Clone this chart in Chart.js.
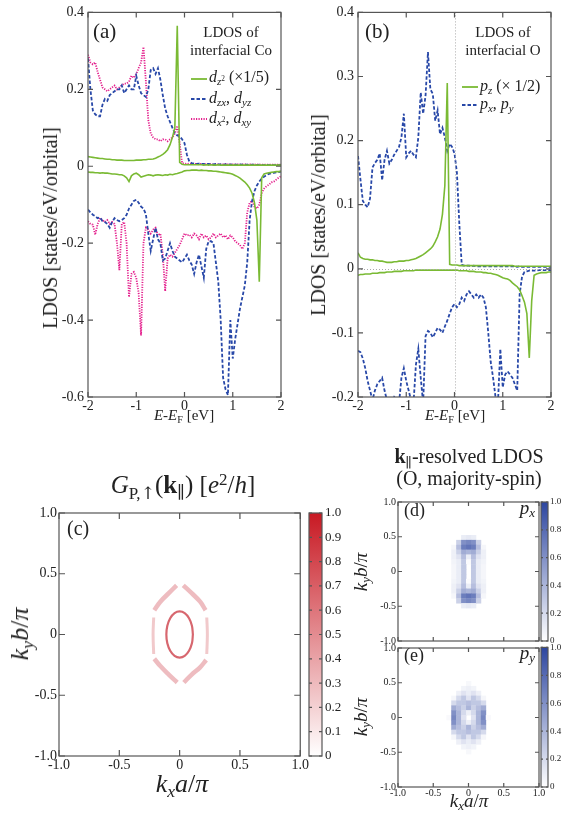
<!DOCTYPE html>
<html>
<head>
<meta charset="utf-8">
<script src="https://cdn.jsdelivr.net/npm/chart.js@4.4.1/dist/chart.umd.min.js"></script>
<style>
  body { margin: 0; width: 575px; height: 820px; position: relative; overflow: hidden; background: #fff;
         font-family: "Liberation Serif", "DejaVu Serif", serif; color: #222; }
  canvas { position: absolute; }
  .c { position: absolute; transform: translate(-50%, -50%); white-space: nowrap; line-height: 1; }
  .r { transform: translate(-50%, -50%) rotate(-90deg); }
  .l { position: absolute; transform: translateY(-50%); white-space: nowrap; line-height: 1; }
  .rt { position: absolute; transform: translate(-100%, -50%); white-space: nowrap; line-height: 1; }
  .sb { font-size: 68%; vertical-align: -0.3em; }
  .sp { font-size: 68%; vertical-align: 0.5em; }
  .arr { font-family: "DejaVu Serif", serif; }
  .leg { position: absolute; }
</style>
</head>
<body>

<canvas id="chartA" width="290" height="425" style="left:0;top:0"></canvas>
<canvas id="chartB" width="285" height="425" style="left:290px;top:0"></canvas>
<canvas id="chartC" width="310" height="280" style="left:0;top:500px"></canvas>
<canvas id="barC" width="50" height="280" style="left:300px;top:500px"></canvas>
<canvas id="chartD" width="210" height="160" style="left:340px;top:490px"></canvas>
<canvas id="barD" width="40" height="160" style="left:535px;top:490px"></canvas>
<canvas id="chartE" width="210" height="175" style="left:340px;top:640px"></canvas>
<canvas id="barE" width="40" height="175" style="left:535px;top:640px"></canvas>

<!-- panel (a) text -->
<div class="c r" style="left:50px;top:228px;font-size:20px">LDOS [states/eV/orbital]</div>
<div class="c" style="left:184px;top:417px;font-size:15px"><i>E</i>-<i>E</i><span class="sb">F</span> [eV]</div>
<div class="l" style="left:93px;top:31px;font-size:21px">(a)</div>
<div class="c" style="left:231px;top:32px;font-size:15px">LDOS of</div>
<div class="c" style="left:231px;top:50px;font-size:15px">interfacial Co</div>
<svg class="leg" style="left:191px;top:74px" width="16" height="50">
  <line x1="0" y1="5" x2="16" y2="5" stroke="rgb(122,186,52)" stroke-width="1.8"/>
  <line x1="0" y1="25" x2="16" y2="25" stroke="rgb(40,72,168)" stroke-width="1.8" stroke-dasharray="3.5,2"/>
  <line x1="0" y1="45" x2="16" y2="45" stroke="rgb(228,30,140)" stroke-width="1.8" stroke-dasharray="1.2,1.3"/>
</svg>
<div class="l" style="left:209px;top:78px;font-size:16px"><i>d</i><span class="sb"><i>z</i><span class="sp">2</span></span> (×1/5)</div>
<div class="l" style="left:209px;top:99px;font-size:16px"><i>d</i><span class="sb"><i>zx</i></span>, <i>d</i><span class="sb"><i>yz</i></span></div>
<div class="l" style="left:209px;top:119px;font-size:16px"><i>d</i><span class="sb"><i>x</i><span class="sp">2</span></span>, <i>d</i><span class="sb"><i>xy</i></span></div>

<!-- panel (b) text -->
<div class="c r" style="left:318px;top:215px;font-size:20px">LDOS [states/eV/orbital]</div>
<div class="c" style="left:455px;top:417px;font-size:15px"><i>E</i>-<i>E</i><span class="sb">F</span> [eV]</div>
<div class="l" style="left:365px;top:31px;font-size:21px">(b)</div>
<div class="c" style="left:503px;top:32px;font-size:15px">LDOS of</div>
<div class="c" style="left:503px;top:50px;font-size:15px">interfacial O</div>
<svg class="leg" style="left:462px;top:82px" width="16" height="30">
  <line x1="0" y1="5" x2="16" y2="5" stroke="rgb(122,186,52)" stroke-width="1.8"/>
  <line x1="0" y1="23" x2="16" y2="23" stroke="rgb(40,72,168)" stroke-width="1.8" stroke-dasharray="3.5,2"/>
</svg>
<div class="l" style="left:480px;top:87px;font-size:16px"><i>p</i><span class="sb"><i>z</i></span> (× 1/2)</div>
<div class="l" style="left:480px;top:105px;font-size:16px"><i>p</i><span class="sb"><i>x</i></span>, <i>p</i><span class="sb"><i>y</i></span></div>

<!-- panel (c) text -->
<div class="c" style="left:183px;top:486px;font-size:25px"><i>G</i><span class="sb">P,<span class="arr">↑</span></span>(<b>k</b><span class="sb">∥</span>) [<i>e</i><span class="sp">2</span>/<i>h</i>]</div>
<div class="l" style="left:67px;top:528px;font-size:20px">(c)</div>
<div class="c r" style="left:22px;top:634px;font-size:26px"><i>k<span class="sb">y</span>b</i>/<i>π</i></div>
<div class="c" style="left:182px;top:786px;font-size:26px"><i>k<span class="sb">x</span>a</i>/<i>π</i></div>

<!-- panels (d), (e) text -->
<div class="c" style="left:469px;top:458px;font-size:20px"><b>k</b><span class="sb">∥</span>-resolved LDOS</div>
<div class="c" style="left:469px;top:478px;font-size:20px">(O, majority-spin)</div>
<div class="l" style="left:404px;top:510px;font-size:18px">(d)</div>
<div class="rt" style="left:535px;top:509px;font-size:19px"><i>p<span class="sb">x</span></i></div>
<div class="l" style="left:404px;top:655px;font-size:18px">(e)</div>
<div class="rt" style="left:535px;top:654px;font-size:19px"><i>p<span class="sb">y</span></i></div>
<div class="c r" style="left:362px;top:572px;font-size:19px"><i>k<span class="sb">y</span>b</i>/<i>π</i></div>
<div class="c r" style="left:362px;top:717px;font-size:19px"><i>k<span class="sb">y</span>b</i>/<i>π</i></div>
<div class="c" style="left:469px;top:802px;font-size:19px"><i>k<span class="sb">x</span>a</i>/<i>π</i></div>

<script>
// energy grid, eV
const energy = [
  -2.00, -1.95, -1.90, -1.85, -1.80, -1.75, -1.70, -1.65, -1.60, -1.55,
  -1.50, -1.45, -1.40, -1.35, -1.30, -1.25, -1.20, -1.15, -1.10, -1.05,
  -1.00, -0.95, -0.90, -0.85, -0.80, -0.75, -0.70, -0.65, -0.60, -0.55,
  -0.50, -0.45, -0.40, -0.35, -0.30, -0.25, -0.20, -0.15, -0.10, -0.05,
  0.00, 0.05, 0.10, 0.15, 0.20, 0.25, 0.30, 0.35, 0.40, 0.45,
  0.50, 0.55, 0.60, 0.65, 0.70, 0.75, 0.80, 0.85, 0.90, 0.95,
  1.00, 1.05, 1.10, 1.15, 1.20, 1.25, 1.30, 1.35, 1.40, 1.45,
  1.50, 1.55, 1.60, 1.65, 1.70, 1.75, 1.80, 1.85, 1.90, 1.95,
  2.00];

// (a) interfacial Co, majority (up) and minority (down)
const coDz2Up = [
  0.025, 0.024, 0.023, 0.022, 0.021, 0.02, 0.02, 0.019, 0.018, 0.018,
  0.017, 0.017, 0.016, 0.016, 0.016, 0.015, 0.015, 0.015, 0.015, 0.015,
  0.016, 0.016, 0.016, 0.017, 0.017, 0.018, 0.018, 0.019, 0.021, 0.024,
  0.027, 0.031, 0.036, 0.043, 0.056, 0.075, 0.10, 0.365, 0.01, 0.005,
  0.004, 0.004, 0.004, 0.004, 0.004, 0.004, 0.004, 0.004, 0.003, 0.004,
  0.003, 0.004, 0.003, 0.003, 0.004, 0.003, 0.003, 0.003, 0.003, 0.003,
  0.003, 0.003, 0.003, 0.003, 0.003, 0.003, 0.003, 0.003, 0.003, 0.003,
  0.003, 0.003, 0.003, 0.003, 0.003, 0.003, 0.003, 0.003, 0.003, 0.003,
  0.003];
const coDz2Dn = [
  -0.015, -0.016, -0.016, -0.017, -0.017, -0.018, -0.017, -0.018, -0.018, -0.019,
  -0.02, -0.02, -0.021, -0.022, -0.022, -0.025, -0.03, -0.04, -0.025, -0.02,
  -0.018, -0.022, -0.028, -0.026, -0.024, -0.022, -0.023, -0.025, -0.023, -0.022,
  -0.023, -0.024, -0.022, -0.023, -0.021, -0.022, -0.02, -0.019, -0.017, -0.015,
  -0.012, -0.011, -0.011, -0.01, -0.01, -0.01, -0.011, -0.01, -0.011, -0.011,
  -0.012, -0.012, -0.013, -0.013, -0.014, -0.015, -0.016, -0.017, -0.018, -0.019,
  -0.021, -0.024, -0.027, -0.031, -0.036, -0.041, -0.048, -0.057, -0.07, -0.095,
  -0.14, -0.30, -0.03, -0.02, -0.018, -0.017, -0.016, -0.015, -0.014, -0.014,
  -0.013];
const coDzxUp = [
  0.28, 0.20, 0.145, 0.135, 0.13, 0.13, 0.16, 0.175, 0.17, 0.185,
  0.19, 0.195, 0.2, 0.2, 0.21, 0.19, 0.2, 0.21, 0.2, 0.2,
  0.235, 0.21, 0.19, 0.185, 0.18, 0.2, 0.25, 0.255, 0.24, 0.255,
  0.225, 0.185, 0.15, 0.13, 0.115, 0.1, 0.085, 0.08, 0.078, 0.07,
  0.06, 0.03, 0.012, 0.008, 0.007, 0.006, 0.007, 0.006, 0.006, 0.005,
  0.006, 0.005, 0.005, 0.006, 0.005, 0.005, 0.004, 0.005, 0.005, 0.004,
  0.005, 0.004, 0.004, 0.005, 0.004, 0.004, 0.004, 0.003, 0.004, 0.004,
  0.003, 0.004, 0.003, 0.003, 0.004, 0.003, 0.003, 0.003, 0.003, 0.003,
  0.003];
const coDzxDn = [
  -0.113, -0.12, -0.126, -0.13, -0.135, -0.133, -0.143, -0.145, -0.15, -0.16,
  -0.145, -0.135, -0.14, -0.143, -0.14, -0.135, -0.126, -0.11, -0.1, -0.09,
  -0.087, -0.095, -0.105, -0.11, -0.125, -0.175, -0.22, -0.19, -0.16, -0.19,
  -0.2, -0.245, -0.24, -0.22, -0.2, -0.22, -0.235, -0.24, -0.245, -0.25,
  -0.24, -0.23, -0.245, -0.256, -0.28, -0.25, -0.23, -0.26, -0.29, -0.215,
  -0.195, -0.195, -0.2, -0.25, -0.3, -0.4, -0.55, -0.58, -0.595, -0.4,
  -0.5, -0.45, -0.41, -0.37, -0.34, -0.31, -0.25, -0.14, -0.09, -0.065,
  -0.05, -0.04, -0.032, -0.027, -0.023, -0.02, -0.018, -0.017, -0.016, -0.015,
  -0.014];
const coDx2Up = [
  0.29, 0.27, 0.265, 0.27, 0.245, 0.225, 0.205, 0.2, 0.195, 0.2,
  0.205, 0.21, 0.2, 0.205, 0.21, 0.215, 0.215, 0.22, 0.235, 0.23,
  0.24, 0.255, 0.27, 0.31, 0.22, 0.12, 0.085, 0.075, 0.07, 0.07,
  0.065, 0.07, 0.07, 0.065, 0.07, 0.075, 0.085, 0.105, 0.06, 0.008,
  0.007, 0.006, 0.007, 0.006, 0.006, 0.006, 0.005, 0.006, 0.006, 0.005,
  0.006, 0.005, 0.005, 0.006, 0.005, 0.005, 0.005, 0.006, 0.005, 0.005,
  0.005, 0.005, 0.005, 0.004, 0.005, 0.005, 0.004, 0.005, 0.004, 0.004,
  0.005, 0.004, 0.004, 0.004, 0.004, 0.004, 0.004, 0.004, 0.004, 0.004,
  0.004];
const coDx2Dn = [
  -0.143, -0.15, -0.152, -0.178, -0.15, -0.135, -0.14, -0.145, -0.14, -0.15,
  -0.145, -0.15, -0.2, -0.27, -0.15, -0.145, -0.2, -0.34, -0.28, -0.275,
  -0.29, -0.33, -0.44, -0.2, -0.16, -0.165, -0.175, -0.165, -0.16, -0.18,
  -0.175, -0.23, -0.325, -0.24, -0.23, -0.235, -0.225, -0.215, -0.205, -0.19,
  -0.175, -0.18, -0.178, -0.185, -0.175, -0.18, -0.19, -0.175, -0.185, -0.18,
  -0.19, -0.185, -0.175, -0.185, -0.18, -0.175, -0.185, -0.18, -0.19, -0.18,
  -0.185, -0.195, -0.2, -0.205, -0.215, -0.2, -0.12, -0.095, -0.09, -0.105,
  -0.11, -0.1, -0.07, -0.058, -0.052, -0.048, -0.042, -0.04, -0.035, -0.03,
  -0.026];

// (b) interfacial O
const oPzUp = [
  0.025, 0.018, 0.016, 0.015, 0.015, 0.014, 0.014, 0.013, 0.013, 0.012,
  0.012, 0.011, 0.01, 0.01, 0.01, 0.011, 0.011, 0.012, 0.012, 0.012,
  0.013, 0.013, 0.014, 0.015, 0.016, 0.018, 0.02, 0.022, 0.025, 0.028,
  0.031, 0.035, 0.042, 0.05, 0.062, 0.085, 0.13, 0.29, 0.007, 0.006,
  0.006, 0.006, 0.005, 0.005, 0.005, 0.005, 0.005, 0.005, 0.005, 0.005,
  0.005, 0.005, 0.005, 0.005, 0.005, 0.005, 0.005, 0.005, 0.005, 0.005,
  0.005, 0.005, 0.005, 0.005, 0.005, 0.004, 0.004, 0.004, 0.004, 0.004,
  0.004, 0.004, 0.004, 0.004, 0.004, 0.004, 0.004, 0.004, 0.004, 0.004,
  0.004];
const oPzDn = [
  -0.01, -0.009, -0.009, -0.008, -0.008, -0.008, -0.007, -0.007, -0.007, -0.006,
  -0.006, -0.006, -0.005, -0.005, -0.005, -0.004, -0.004, -0.004, -0.004, -0.003,
  -0.003, -0.003, -0.003, -0.003, -0.002, -0.002, -0.002, -0.002, -0.002, -0.002,
  -0.002, -0.002, -0.002, -0.002, -0.002, -0.002, -0.002, -0.002, -0.002, -0.002,
  -0.002, -0.002, -0.003, -0.003, -0.003, -0.003, -0.004, -0.004, -0.004, -0.005,
  -0.005, -0.005, -0.006, -0.006, -0.007, -0.007, -0.008, -0.009, -0.01, -0.012,
  -0.014, -0.015, -0.016, -0.018, -0.022, -0.025, -0.028, -0.033, -0.042, -0.052,
  -0.07, -0.139, -0.05, -0.01, -0.008, -0.007, -0.006, -0.006, -0.006, -0.005,
  -0.005];
const oPxUp = [
  0.176, 0.14, 0.106, 0.1, 0.096, 0.11, 0.158, 0.165, 0.17, 0.18,
  0.138, 0.17, 0.184, 0.164, 0.17, 0.178, 0.184, 0.19, 0.205, 0.242,
  0.174, 0.18, 0.184, 0.178, 0.174, 0.205, 0.275, 0.242, 0.27, 0.338,
  0.28, 0.273, 0.231, 0.247, 0.21, 0.22, 0.205, 0.184, 0.195, 0.19,
  0.18, 0.15, 0.07, 0.006, 0.005, 0.005, 0.005, 0.004, 0.005, 0.004,
  0.004, 0.004, 0.004, 0.004, 0.004, 0.004, 0.004, 0.004, 0.004, 0.004,
  0.004, 0.004, 0.004, 0.004, 0.004, 0.004, 0.003, 0.004, 0.003, 0.003,
  0.003, 0.003, 0.003, 0.003, 0.003, 0.003, 0.003, 0.003, 0.003, 0.003,
  0.003];
const oPxDn = [
  -0.128, -0.13, -0.14, -0.155, -0.175, -0.19, -0.205, -0.19, -0.18, -0.175,
  -0.17, -0.19, -0.205, -0.2, -0.21, -0.2, -0.205, -0.21, -0.17, -0.155,
  -0.175, -0.19, -0.205, -0.21, -0.15, -0.125, -0.17, -0.21, -0.105, -0.097,
  -0.1, -0.107, -0.1, -0.092, -0.095, -0.1, -0.09, -0.081, -0.07, -0.06,
  -0.055, -0.06, -0.055, -0.045, -0.05, -0.04, -0.035, -0.04, -0.045, -0.04,
  -0.045, -0.04, -0.045, -0.06, -0.1, -0.145, -0.17, -0.2, -0.21, -0.125,
  -0.185, -0.165, -0.16, -0.165, -0.17, -0.18, -0.19, -0.04, -0.012, -0.005,
  -0.004, -0.003, -0.003, -0.003, -0.003, -0.002, -0.002, -0.002, -0.002, -0.002,
  -0.002];

// tick values
const eTicks = [-2, -1, 0, 1, 2];
const coTicks = [-0.6, -0.4, -0.2, 0, 0.2, 0.4];
const oTicks = [-0.2, -0.1, 0, 0.1, 0.2, 0.3, 0.4];
const kTicks = [-1, -0.5, 0, 0.5, 1];
const cbTicksC = [0, 0.1, 0.2, 0.3, 0.4, 0.5, 0.6, 0.7, 0.8, 0.9, 1];
const cbTicksDE = [0, 0.2, 0.4, 0.6, 0.8, 1];

// (c) G_P,up(k) ring traces, [kx, ky]
const innerRing = [[0.11, 0], [0.102, 0.073], [0.078, 0.134], [0.042, 0.176], [0, 0.19],
  [-0.042, 0.176], [-0.078, 0.134], [-0.102, 0.073], [-0.11, 0], [-0.102, -0.073],
  [-0.078, -0.134], [-0.042, -0.176], [0, -0.19], [0.042, -0.176], [0.078, -0.134],
  [0.102, -0.073], [0.11, 0]];
const outerUL = [[-0.21, 0.2], [-0.16, 0.27], [-0.09, 0.34], [-0.025, 0.405]];
const outerUR = [[0.03, 0.405], [0.1, 0.34], [0.17, 0.27], [0.215, 0.2]];
const outerL = [[-0.215, 0.14], [-0.22, 0], [-0.215, -0.16]];
const outerR = [[0.225, 0.14], [0.23, 0], [0.225, -0.16]];
const outerLL = [[-0.21, -0.2], [-0.16, -0.26], [-0.09, -0.33], [-0.02, -0.395]];
const outerLR = [[0.035, -0.395], [0.1, -0.33], [0.17, -0.27], [0.22, -0.21]];

// (d), (e) k-resolved LDOS maps: rows ky (top to bottom), cols kx
const mapCols = [-0.28, -0.21, -0.14, -0.07, 0, 0.07, 0.14, 0.21, 0.28];
const mapRows = [0.49, 0.42, 0.35, 0.28, 0.21, 0.14, 0.07, 0, -0.07, -0.14, -0.21, -0.28, -0.35, -0.42, -0.49];
const pxMap = [
  [0, 0, 0, 0.1, 0.12, 0.1, 0, 0, 0],
  [0, 0, 0.25, 0.6, 0.65, 0.6, 0.25, 0, 0],
  [0, 0.05, 0.35, 0.7, 0.75, 0.7, 0.35, 0.05, 0],
  [0, 0.08, 0.25, 0.45, 0.4, 0.45, 0.25, 0.08, 0],
  [0, 0.08, 0.15, 0.35, 0.1, 0.35, 0.15, 0.08, 0],
  [0, 0.06, 0.1, 0.3, 0.02, 0.3, 0.1, 0.06, 0],
  [0, 0.05, 0.1, 0.3, 0, 0.3, 0.1, 0.05, 0],
  [0, 0.05, 0.1, 0.3, 0, 0.3, 0.1, 0.05, 0],
  [0, 0.05, 0.1, 0.3, 0, 0.3, 0.1, 0.05, 0],
  [0, 0.06, 0.1, 0.3, 0.02, 0.3, 0.1, 0.06, 0],
  [0, 0.08, 0.15, 0.35, 0.1, 0.35, 0.15, 0.08, 0],
  [0, 0.08, 0.25, 0.45, 0.4, 0.45, 0.25, 0.08, 0],
  [0, 0.05, 0.35, 0.7, 0.75, 0.7, 0.35, 0.05, 0],
  [0, 0, 0.25, 0.6, 0.65, 0.6, 0.25, 0, 0],
  [0, 0, 0, 0.1, 0.12, 0.1, 0, 0, 0]];
const pyMap = [
  [0, 0, 0, 0, 0.04, 0, 0, 0, 0],
  [0, 0, 0, 0.06, 0.08, 0.06, 0, 0, 0],
  [0, 0, 0.08, 0.15, 0.1, 0.15, 0.08, 0, 0],
  [0, 0.05, 0.2, 0.3, 0.15, 0.3, 0.2, 0.05, 0],
  [0, 0.2, 0.3, 0.3, 0.35, 0.3, 0.3, 0.2, 0],
  [0, 0.45, 0.35, 0.25, 0.4, 0.25, 0.35, 0.45, 0],
  [0, 0.6, 0.4, 0.2, 0.08, 0.2, 0.4, 0.6, 0],
  [0.03, 0.65, 0.4, 0.15, 0, 0.15, 0.4, 0.65, 0.03],
  [0, 0.6, 0.4, 0.2, 0.08, 0.2, 0.4, 0.6, 0],
  [0, 0.45, 0.35, 0.25, 0.4, 0.25, 0.35, 0.45, 0],
  [0, 0.2, 0.3, 0.3, 0.35, 0.3, 0.3, 0.2, 0],
  [0, 0.05, 0.2, 0.3, 0.15, 0.3, 0.2, 0.05, 0],
  [0, 0, 0.08, 0.15, 0.1, 0.15, 0.08, 0, 0],
  [0, 0, 0, 0.06, 0.08, 0.06, 0, 0, 0],
  [0, 0, 0, 0, 0.04, 0, 0, 0, 0]];

const SERIF = '"Liberation Serif", "DejaVu Serif", serif';
const GREEN = 'rgb(122,186,52)';
const BLUE = 'rgb(40,72,168)';
const MAGENTA = 'rgb(228,30,140)';
const RED_TOP = [200, 25, 35];
const BLUE_TOP = [45, 70, 160];

function mix(top, v) {
  const c = top.map((t) => Math.round(255 + (t - 255) * v));
  return 'rgb(' + c.join(',') + ')';
}

function series(xs, ys) {
  return xs.map((x, i) => ({ x: x, y: ys[i] }));
}

function pairs(list) {
  return list.map((p) => ({ x: p[0], y: p[1] }));
}

function fmt1(v) {
  return v === 0 ? '0' : v.toFixed(1);
}

function scale(pos, min, max, ticks, label, size, fit, pad, show) {
  return {
    type: 'linear',
    position: pos,
    min: min,
    max: max,
    display: show !== 'none',
    grid: { display: false, drawTicks: false },
    border: { display: false },
    afterBuildTicks: (s) => {
      s.ticks = ticks.map((v) => ({ value: v }));
    },
    afterFit: (s) => {
      if (pos === 'bottom') s.height = fit;
      else s.width = fit;
    },
    ticks: {
      display: show !== false && show !== 'none',
      padding: pad,
      color: '#222',
      autoSkip: false,
      maxRotation: 0,
      font: { family: SERIF, size: size },
      callback: (v) => label(v),
    },
  };
}

// box with inward ticks on all four sides, optional dotted zero lines
function frame(len, zero, noX) {
  return {
    id: 'frame',
    afterDatasetsDraw(chart) {
      const { ctx, chartArea: a } = chart;
      const sx = chart.scales.x;
      const sy = chart.scales.y;
      ctx.save();
      if (zero) {
        ctx.strokeStyle = '#aaa';
        ctx.lineWidth = 1;
        ctx.setLineDash([1, 2]);
        const px = Math.round(sx.getPixelForValue(0)) + 0.5;
        const py = Math.round(sy.getPixelForValue(0)) + 0.5;
        ctx.beginPath();
        ctx.moveTo(px, a.top);
        ctx.lineTo(px, a.bottom);
        ctx.moveTo(a.left, py);
        ctx.lineTo(a.right, py);
        ctx.stroke();
        ctx.setLineDash([]);
      }
      ctx.strokeStyle = '#555';
      ctx.lineWidth = 1.2;
      ctx.beginPath();
      if (!noX) {
        sx.ticks.forEach((t) => {
          const p = sx.getPixelForValue(t.value);
          ctx.moveTo(p, a.bottom);
          ctx.lineTo(p, a.bottom - len);
          ctx.moveTo(p, a.top);
          ctx.lineTo(p, a.top + len);
        });
      }
      sy.ticks.forEach((t) => {
        const p = sy.getPixelForValue(t.value);
        ctx.moveTo(a.left, p);
        ctx.lineTo(a.left + len, p);
        ctx.moveTo(a.right, p);
        ctx.lineTo(a.right - len, p);
      });
      ctx.stroke();
      ctx.strokeRect(a.left, a.top, a.right - a.left, a.bottom - a.top);
      ctx.restore();
    },
  };
}

function gradient(top) {
  return {
    id: 'gradient',
    beforeDatasetsDraw(chart) {
      const { ctx, chartArea: a } = chart;
      const g = ctx.createLinearGradient(0, a.bottom, 0, a.top);
      g.addColorStop(0, mix(top, 0));
      g.addColorStop(1, mix(top, 1));
      ctx.fillStyle = g;
      ctx.fillRect(a.left, a.top, a.right - a.left, a.bottom - a.top);
    },
  };
}

function heat(cells, top) {
  return {
    id: 'heat',
    beforeDatasetsDraw(chart) {
      const { ctx } = chart;
      const sx = chart.scales.x;
      const sy = chart.scales.y;
      const hx = (mapCols[1] - mapCols[0]) / 2;
      const hy = (mapRows[0] - mapRows[1]) / 2;
      cells.forEach((row, r) => {
        row.forEach((v, c) => {
          if (v <= 0) return;
          const x0 = sx.getPixelForValue(mapCols[c] - hx);
          const x1 = sx.getPixelForValue(mapCols[c] + hx);
          const y0 = sy.getPixelForValue(mapRows[r] + hy);
          const y1 = sy.getPixelForValue(mapRows[r] - hy);
          ctx.fillStyle = mix(top, v);
          ctx.fillRect(x0, y0, x1 - x0 + 0.4, y1 - y0 + 0.4);
        });
      });
    },
  };
}

const base = {
  responsive: false,
  animation: false,
  devicePixelRatio: 1,
  events: [],
  plugins: { legend: { display: false }, tooltip: { enabled: false } },
  elements: { point: { radius: 0 }, line: { tension: 0, fill: false } },
};

function opts(padding, x, y) {
  return Object.assign({}, base, { layout: { autoPadding: false, padding: padding }, scales: { x: x, y: y } });
}

const solid = (data, color) => ({ data: data, borderColor: color, borderWidth: 1.6 });
const dashed = (data) => ({ data: data, borderColor: BLUE, borderWidth: 1.8, borderDash: [3.5, 2] });
const dotted = (data) => ({ data: data, borderColor: MAGENTA, borderWidth: 1.8, borderDash: [1.2, 1.3] });

// (a)
new Chart(document.getElementById('chartA'), {
  type: 'line',
  data: {
    datasets: [
      solid(series(energy, coDz2Up), GREEN),
      solid(series(energy, coDz2Dn), GREEN),
      dashed(series(energy, coDzxUp)),
      dashed(series(energy, coDzxDn)),
      dotted(series(energy, coDx2Up)),
      dotted(series(energy, coDx2Dn)),
    ],
  },
  options: opts({ left: 0, right: 9, top: 12, bottom: 0 },
    scale('bottom', -2, 2, eTicks, String, 14, 28, 1),
    scale('left', -0.6, 0.4, coTicks, fmt1, 14, 88, 4)),
  plugins: [frame(5, false)],
});

// (b)
new Chart(document.getElementById('chartB'), {
  type: 'line',
  data: {
    datasets: [
      solid(series(energy, oPzUp), GREEN),
      solid(series(energy, oPzDn), GREEN),
      dashed(series(energy, oPxUp)),
      dashed(series(energy, oPxDn)),
    ],
  },
  options: opts({ left: 0, right: 24, top: 12, bottom: 0 },
    scale('bottom', -2, 2, eTicks, String, 14, 28, 1),
    scale('left', -0.2, 0.4, oTicks, fmt1, 14, 68, 4)),
  plugins: [frame(5, true)],
});

// (c)
const ring = (list, color, width) => ({
  data: pairs(list), showLine: true, borderColor: color, borderWidth: width, tension: 0.4,
});
new Chart(document.getElementById('chartC'), {
  type: 'scatter',
  data: {
    datasets: [
      ring(innerRing, 'rgba(200,45,55,0.72)', 2.2),
      ring(outerUL, 'rgba(205,60,70,0.34)', 4.5),
      ring(outerUR, 'rgba(205,60,70,0.34)', 4.5),
      ring(outerL, 'rgba(205,60,70,0.28)', 3),
      ring(outerR, 'rgba(205,60,70,0.28)', 3),
      ring(outerLL, 'rgba(205,60,70,0.34)', 4.5),
      ring(outerLR, 'rgba(205,60,70,0.34)', 4.5),
    ],
  },
  options: opts({ left: 0, right: 7, top: 13, bottom: 0 },
    scale('bottom', -1, 1, kTicks, fmt1, 14, 24, 1),
    scale('left', -1, 1, kTicks, fmt1, 14, 59, 2)),
  plugins: [frame(6, false)],
});

new Chart(document.getElementById('barC'), {
  type: 'scatter',
  data: { datasets: [] },
  options: opts({ left: 9, right: 0, top: 13, bottom: 24 },
    scale('bottom', 0, 1, [0, 1], String, 10, 0, 0, 'none'),
    scale('right', 0, 1, cbTicksC, fmt1, 13, 28, 3)),
  plugins: [gradient(RED_TOP), frame(3, false, true)],
});

// (d), (e)
function mapChart(id, cells, padTop, xFit, showX) {
  new Chart(document.getElementById(id), {
    type: 'scatter',
    data: { datasets: [] },
    options: opts({ left: 0, right: 11, top: padTop, bottom: 0 },
      scale('bottom', -1, 1, kTicks, fmt1, 10, xFit, 0, showX),
      scale('left', -1, 1, kTicks, fmt1, 10, 58, 2)),
    plugins: [heat(cells, BLUE_TOP), frame(4, false)],
  });
}
function barChart(id, padTop, padBottom) {
  new Chart(document.getElementById(id), {
    type: 'scatter',
    data: { datasets: [] },
    options: opts({ left: 6, right: 0, top: padTop, bottom: padBottom },
      scale('bottom', 0, 1, [0, 1], String, 10, 0, 0, 'none'),
      scale('right', 0, 1, cbTicksDE, fmt1, 9, 27, 2)),
    plugins: [gradient(BLUE_TOP), frame(2, false, true)],
  });
}
mapChart('chartD', pxMap, 12, 9, false);
mapChart('chartE', pyMap, 7, 28, true);
barChart('barD', 12, 9);
barChart('barE', 7, 28);
</script>
</body>
</html>
